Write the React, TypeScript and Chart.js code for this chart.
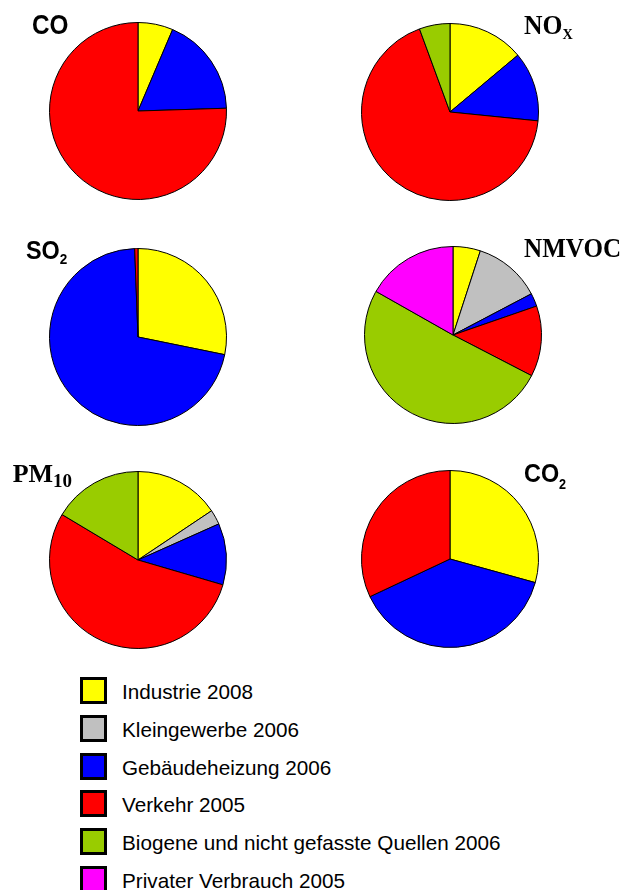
import React, { useEffect, useRef } from "react";
import { Chart, registerables } from "chart.js";

Chart.register(...registerables);

// Source categories (legend order = slice order, clockwise from 12 o'clock)
const categories = [
  "Industrie 2008",
  "Kleingewerbe 2006",
  "Gebäudeheizung 2006",
  "Verkehr 2005",
  "Biogene und nicht gefasste Quellen 2006",
  "Privater Verbrauch 2005",
];
const colors = ["#FFFF00", "#C0C0C0", "#0000FF", "#FF0000", "#99CC00", "#FF00FF"];

// Shares in percent, one per category
const coValues = [6.4, 0, 18.1, 75.5, 0, 0];
const noxValues = [13.9, 0, 12.7, 67.8, 5.6, 0];
const so2Values = [28.2, 0, 71.2, 0.6, 0, 0];
const nmvocValues = [5.0, 12.3, 2.4, 12.9, 50.6, 16.8];
const pm10Values = [15.6, 2.7, 11.2, 54.0, 16.4, 0];
const co2Values = [29.3, 0, 38.7, 32.0, 0, 0];

const SERIF = "'Liberation Serif', 'DejaVu Serif', serif";
const SANS = "'Liberation Sans', Arial, sans-serif";

type PieProps = { values: number[]; cx: number; cy: number };

const SIZE = 190;
const RADIUS = 88.5;

function Pie({ values, cx, cy }: PieProps) {
  const ref = useRef<HTMLCanvasElement | null>(null);
  useEffect(() => {
    if (!ref.current) return;
    const chart = new Chart(ref.current, {
      type: "pie",
      data: {
        labels: categories,
        datasets: [
          {
            data: values,
            backgroundColor: colors,
            borderColor: "#000000",
            borderWidth: 1,
            hoverOffset: 0,
          },
        ],
      },
      options: {
        responsive: false,
        animation: false,
        radius: RADIUS,
        layout: { padding: 0 },
        events: [],
        plugins: {
          legend: { display: false },
          tooltip: { enabled: false },
          title: { display: false },
        },
      } as any,
    });
    return () => chart.destroy();
  }, []);
  return (
    <canvas
      ref={ref}
      width={SIZE}
      height={SIZE}
      style={{ position: "absolute", left: cx - SIZE / 2, top: cy - SIZE / 2, width: SIZE, height: SIZE }}
    />
  );
}

type TitleProps = {
  main: string;
  sub?: string;
  x: number;
  baseline: number;
  serif: boolean;
  size: number;
  subSize: number;
  subDrop: number;
  scaleX?: number;
};

function Title({ main, sub, x, baseline, serif, size, subSize, subDrop, scaleX = 1 }: TitleProps) {
  const k = serif ? 0.8375 : 0.8465;
  return (
    <div
      style={{
        position: "absolute",
        left: x,
        top: baseline - k * size,
        fontFamily: serif ? SERIF : SANS,
        fontWeight: "bold",
        fontSize: size,
        lineHeight: `${size}px`,
        whiteSpace: "nowrap",
        color: "#000",
        transform: `scaleX(${scaleX})`,
        transformOrigin: "0 0",
      }}
    >
      {main}
      {sub ? (
        <span style={{ fontSize: subSize, lineHeight: 0, position: "relative", top: subDrop }}>{sub}</span>
      ) : null}
    </div>
  );
}

export default function App() {
  const legendTop = 677.3;
  const legendStep = 37.7;
  return (
    <div
      style={{
        position: "absolute",
        left: 0,
        top: 0,
        width: 623,
        height: 890,
        background: "#ffffff",
        overflow: "hidden",
      }}
    >
      <Pie values={coValues} cx={138} cy={111.3} />
      <Pie values={noxValues} cx={450} cy={111.5} />
      <Pie values={so2Values} cx={138} cy={336.5} />
      <Pie values={nmvocValues} cx={452.8} cy={335.2} />
      <Pie values={pm10Values} cx={138} cy={560} />
      <Pie values={co2Values} cx={450} cy={558.8} />

      <Title main="CO" x={32} baseline={35} serif={false} size={27} subSize={15} subDrop={0} scaleX={0.9} />
      <Title main="NO" sub="X" x={524} baseline={34.3} serif={true} size={27} subSize={15} subDrop={5.7} scaleX={0.95} />
      <Title main="SO" sub="2" x={26} baseline={259.3} serif={false} size={26} subSize={15} subDrop={4.7} scaleX={0.9} />
      <Title main="NMVOC" x={523.5} baseline={258} serif={true} size={27} subSize={15} subDrop={0} scaleX={0.93} />
      <Title main="PM" sub="10" x={12.7} baseline={482.3} serif={true} size={26} subSize={19} subDrop={5.7} />
      <Title main="CO" sub="2" x={524} baseline={482.3} serif={false} size={26} subSize={14} subDrop={6.7} scaleX={0.9} />

      {categories.map((c, i) => (
        <React.Fragment key={c}>
          <div
            style={{
              position: "absolute",
              left: 80,
              top: legendTop + i * legendStep,
              width: 27,
              height: 27,
              boxSizing: "border-box",
              border: "3px solid #000",
              background: colors[i],
            }}
          />
          <div
            style={{
              position: "absolute",
              left: 122,
              top: legendTop + i * legendStep + 1,
              height: 27,
              lineHeight: "27px",
              fontFamily: SANS,
              fontSize: 20.7,
              whiteSpace: "nowrap",
              color: "#000",
            }}
          >
            {c}
          </div>
        </React.Fragment>
      ))}
    </div>
  );
}
